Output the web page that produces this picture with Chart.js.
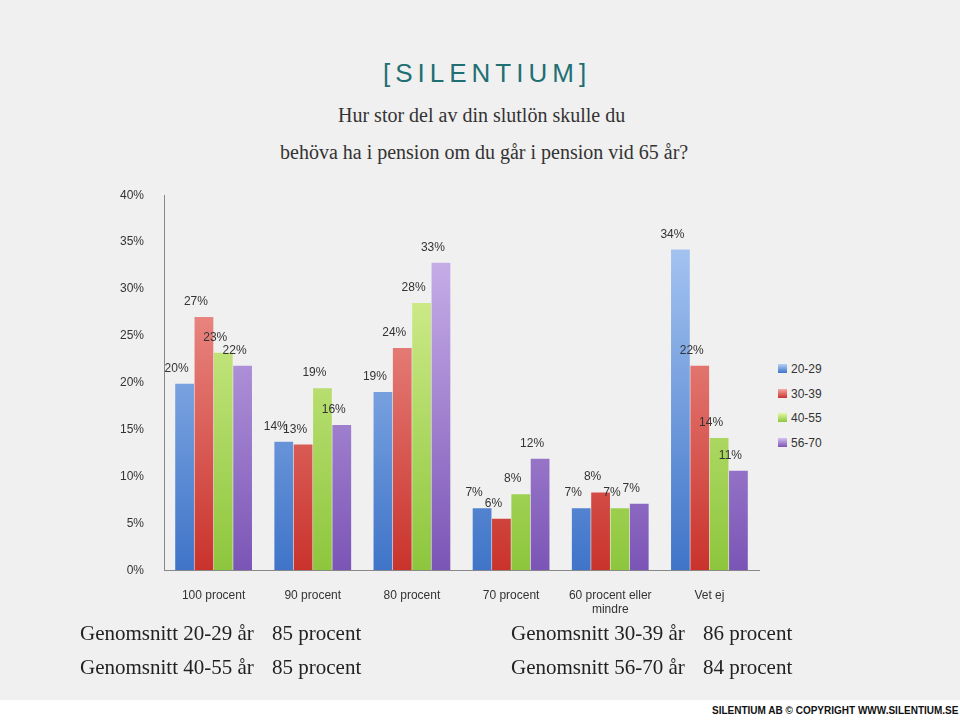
<!DOCTYPE html>
<html><head><meta charset="utf-8">
<script src="https://cdn.jsdelivr.net/npm/chart.js"></script>
<style>
body{margin:0;width:960px;height:720px;background:#f0f0f0;position:relative;overflow:hidden;font-family:"Liberation Serif",serif}
.t{position:absolute;white-space:nowrap}
#c{position:absolute;left:108px;top:176px}
</style></head><body>
<div class="t" style="left:383px;top:58px;font-size:26px;letter-spacing:5px;color:#1f6f73;font-family:'Liberation Sans',sans-serif">[SILENTIUM]</div>
<div class="t" style="left:338px;top:104px;font-size:20px;color:#333">Hur stor del av din slutlön skulle du</div>
<div class="t" style="left:280px;top:141px;font-size:20px;color:#333">behöva ha i pension om du går i pension vid 65 år?</div>
<canvas id="c" width="656" height="451" style="width:656px;height:451px"></canvas>
<div class="t" style="left:778px;top:357px;font:12px 'Liberation Sans',sans-serif;color:#333;line-height:24.5px" id="lg"></div>
<div class="t" style="left:80px;top:621px;font-size:21px;color:#222">Genomsnitt 20-29 år</div>
<div class="t" style="left:272px;top:621px;font-size:21px;color:#222">85 procent</div>
<div class="t" style="left:80px;top:655px;font-size:21px;color:#222">Genomsnitt 40-55 år</div>
<div class="t" style="left:272px;top:655px;font-size:21px;color:#222">85 procent</div>
<div class="t" style="left:511px;top:621px;font-size:21px;color:#222">Genomsnitt 30-39 år</div>
<div class="t" style="left:703px;top:621px;font-size:21px;color:#222">86 procent</div>
<div class="t" style="left:511px;top:655px;font-size:21px;color:#222">Genomsnitt 56-70 år</div>
<div class="t" style="left:703px;top:655px;font-size:21px;color:#222">84 procent</div>
<div style="position:absolute;left:0;top:700px;width:960px;height:20px;background:#fff"></div>
<div class="t" style="left:712px;top:705px;font:bold 10px 'Liberation Sans',sans-serif;color:#111">SILENTIUM AB © COPYRIGHT WWW.SILENTIUM.SE</div>
<script>
const categories=["100 procent","90 procent","80 procent","70 procent",["60 procent eller","mindre"],"Vet ej"];
const seriesNames=["20-29","30-39","40-55","56-70"];
const s2029=[20,14,19,7,7,34];
const s3039=[27,13,24,6,8,22];
const s4055=[23,19,28,8,7,14];
const s5670=[22,16,33,12,7,11];
const heights=[[19.9,13.7,19,6.6,6.6,34.2],[27,13.4,23.7,5.5,8.3,21.8],[23.2,19.4,28.5,8.1,6.6,14.1],[21.8,15.5,32.8,11.9,7.1,10.6]];
const yTicks=[0,5,10,15,20,25,30,35,40];
const cols=[["#b4d0f7","#3f74c8"],["#f7aaa5","#c9332c"],["#e4f7a3","#8dc63d"],["#d6c0f2","#7b55b6"]];
const labs=[s2029,s3039,s4055,s5670];
function grad(i){return c=>{const a=c.chart.chartArea;if(!a)return cols[i][1];const g=c.chart.ctx.createLinearGradient(0,a.top,0,a.bottom);g.addColorStop(0,cols[i][0]);g.addColorStop(1,cols[i][1]);return g;}}
const lbl={id:'lbl',afterDatasetsDraw(ch){const ctx=ch.ctx;ctx.font="12px 'Liberation Sans',sans-serif";ctx.fillStyle="#333";ctx.textAlign="center";
ch.data.datasets.forEach((d,i)=>{ch.getDatasetMeta(i).data.forEach((b,j)=>{ctx.fillText(labs[i][j]+"%",b.x-8,b.y-12);});});}};
new Chart(document.getElementById('c'),{type:'bar',
data:{labels:categories,datasets:seriesNames.map((n,i)=>({label:n,data:heights[i],backgroundColor:grad(i)}))},
options:{responsive:false,animation:false,plugins:{legend:{display:false},tooltip:{enabled:false}},
layout:{padding:{top:10,right:5}},
datasets:{bar:{categoryPercentage:0.78,barPercentage:0.97}},
scales:{y:{min:0,max:40,afterBuildTicks:a=>{a.ticks=yTicks.map(v=>({value:v}))},grid:{display:false,drawTicks:true},border:{color:'#888'},
ticks:{callback:v=>v+'%',color:'#333',font:{family:'Liberation Sans',size:12},padding:12}},
x:{grid:{display:false},border:{color:'#888'},ticks:{color:'#333',font:{family:'Liberation Sans',size:12},padding:10}}}},
plugins:[lbl]});
document.getElementById('lg').innerHTML=seriesNames.map((n,i)=>`<div><span style="display:inline-block;width:9px;height:9px;margin-right:4px;background:linear-gradient(${cols[i][0]},${cols[i][1]})"></span>${n}</div>`).join('');
</script>
</body></html>
